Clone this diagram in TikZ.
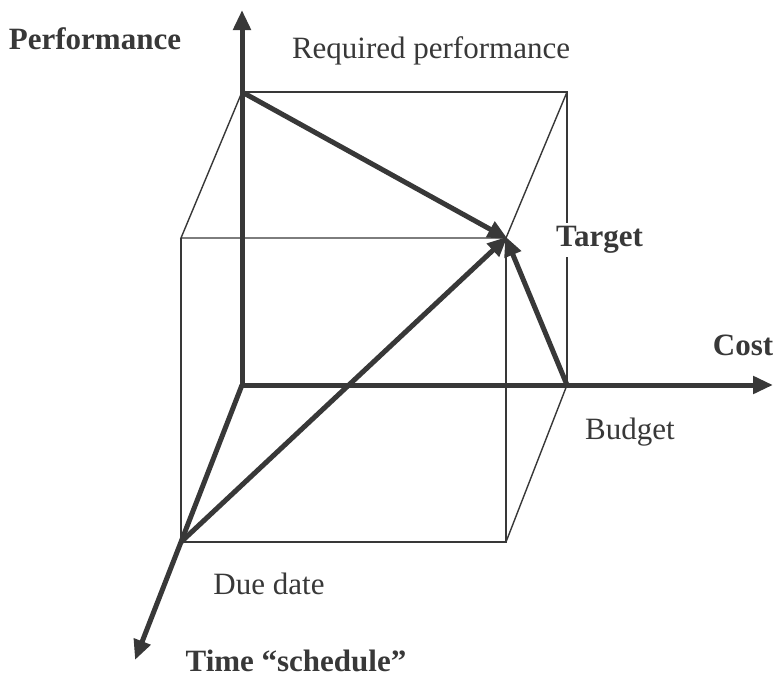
\documentclass[tikz,border=0pt]{standalone}
\usepackage{fontspec}
\setmainfont{Liberation Serif}
\usetikzlibrary{arrows.meta}
\definecolor{ink}{HTML}{383838}
\begin{document}
\begin{tikzpicture}[x=1pt,y=-1pt,
  thinline/.style={draw=ink,line width=1.4pt},
  thickline/.style={draw=ink,line width=5pt},
  arrowline/.style={thickline,-{Triangle[length=20pt,width=17pt]}},
  lbl/.style={text=ink,font=\fontsize{31}{34}\selectfont,inner sep=1pt},
  blbl/.style={lbl,font=\fontsize{31}{34}\selectfont\bfseries}]
\useasboundingbox (0,0) rectangle (776,688);
\fill[white] (0,0) rectangle (776,688);
% corners
\coordinate (O) at (242,385);
\coordinate (Ptop) at (242,10);
\coordinate (P) at (242,92);
\coordinate (BR) at (567,92);
\coordinate (C) at (567,385);
\coordinate (Ctip) at (773,385);
\coordinate (T) at (506,238);
\coordinate (FTL) at (181,238);
\coordinate (FBL) at (181,542);
\coordinate (FBR) at (506,542);
\coordinate (Ttip) at (135,660);
% thin cube edges
\draw[thinline] (P) -- (BR) -- (C);
\draw[thinline] (P) -- (FTL) -- (T) -- (BR);
\draw[thinline] (FTL) -- (FBL) -- (FBR) -- (T);
\draw[thinline] (FBR) -- (C);
% label covering the back edge
\node[blbl,fill=white,anchor=west,inner sep=3pt] (tgt) at (553,240) {Target};
% axes
\draw[arrowline] (O) -- (Ptop);
\draw[arrowline] (O) -- (Ctip);
\draw[arrowline,line join=round] (O) -- (FBL) -- (Ttip);
% thick arrows to target
\draw[arrowline,shorten >=-2pt] (P) -- (T);
\draw[arrowline,shorten >=-2pt] (FBL) -- (T);
\draw[arrowline,shorten >=-2pt] (C) -- (T);
% labels
\node[blbl] (perf) at (95,39) {Performance};
\node[lbl] (req) at (431,51) {Required performance};
\node[blbl] (cost) at (743,345) {Cost};
\node[lbl] (bud) at (630,432) {Budget};
\node[lbl] (due) at (269,584) {Due date};
\node[blbl] (time) at (296,661) {Time “schedule”};
\end{tikzpicture}
\end{document}
